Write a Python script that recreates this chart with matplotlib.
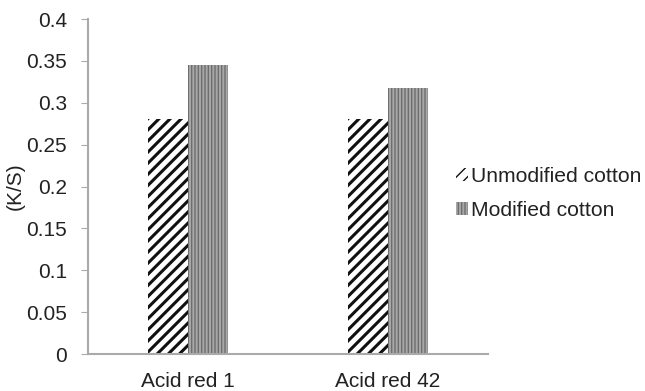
import numpy as np
import matplotlib.pyplot as plt

categories = ["Acid red 1", "Acid red 42"]
unmodified = [0.281, 0.281]
modified = [0.345, 0.318]
series_names = ["Unmodified cotton", "Modified cotton"]
yticks = [0, 0.05, 0.1, 0.15, 0.2, 0.25, 0.3, 0.35, 0.4]
ytick_labels = ["0", "0.05", "0.1", "0.15", "0.2", "0.25", "0.3", "0.35", "0.4"]

plt.rcParams['font.family'] = ['Liberation Sans', 'DejaVu Sans']
plt.rcParams['hatch.linewidth'] = 2.2

fig = plt.figure(figsize=(6.45, 3.91), dpi=100)
ax = fig.add_axes([0.1364, 0.0946, 0.62, 0.8568])

x = np.arange(len(categories))
w = 0.2
b1 = ax.bar(x - w / 2, unmodified, w, facecolor='white', edgecolor='#111111',
            hatch='///', linewidth=0, label=series_names[0])
plt.rcParams['hatch.linewidth'] = 1.0
b2 = ax.bar(x + w / 2, modified, w, facecolor='#a8a8a8', edgecolor='#6e6e6e',
            hatch='|||||', linewidth=0, label=series_names[1])

ax.set_xlim(-0.5, 1.5)
ax.set_ylim(0, 0.4)
ax.set_xticks(x)
ax.set_xticklabels(categories, fontsize=15, color='#222222')
ax.set_yticks(yticks)
ax.set_yticklabels(ytick_labels, fontsize=15, color='#222222')
ax.tick_params(axis='x', length=0, pad=13)
ax.tick_params(axis='y', length=5, color='#aaaaaa', pad=10)
ax.set_ylabel("(K/S)", fontsize=15, labelpad=1, color='#222222')

for s in ['top', 'right']:
    ax.spines[s].set_visible(False)
for s in ['left', 'bottom']:
    ax.spines[s].set_color('#aaaaaa')
    ax.spines[s].set_linewidth(1.5)

leg = fig.legend(handles=[b1, b2], loc='center left', bbox_to_anchor=(0.677, 0.505),
                 frameon=False, fontsize=15.2, handlelength=0.6, handleheight=0.6,
                 handletextpad=0.15, labelspacing=0.7)
for t in leg.get_texts():
    t.set_color('#222222')

plt.savefig('out.png', dpi=100)
